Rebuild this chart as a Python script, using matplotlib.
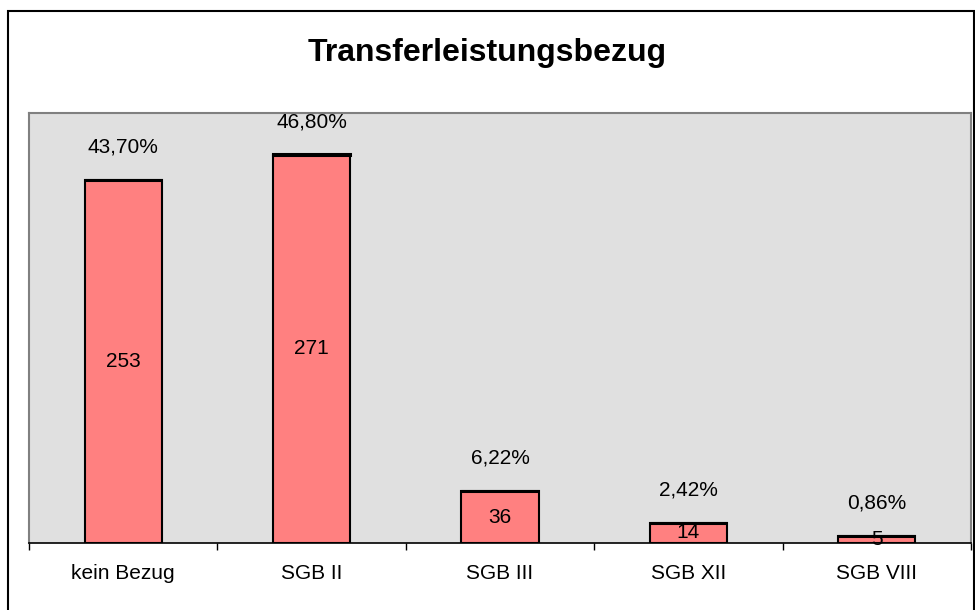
import matplotlib
matplotlib.use("Agg")
import matplotlib.pyplot as plt
from matplotlib.patches import Rectangle
import numpy as np

plt.rcParams['font.family'] = ['Liberation Sans', 'DejaVu Sans']

categories = ['kein Bezug', 'SGB II', 'SGB III', 'SGB XII', 'SGB VIII']
counts = [253, 271, 36, 14, 5]
percent = [43.70, 46.80, 6.22, 2.42, 0.86]
percent_labels = ['43,70%', '46,80%', '6,22%', '2,42%', '0,86%']

fig = plt.figure(figsize=(9.75, 6.1), dpi=100)
ax = fig.add_axes([29 / 975, 67 / 610, 942 / 975, 430 / 610])

# outer chart border
fig.patches.append(Rectangle((8 / 975, -0.05), 966 / 975, 1.05 - 11 / 610,
                             transform=fig.transFigure, fill=False,
                             edgecolor='black', linewidth=1.5))

x = np.arange(len(categories))
ax.set_facecolor('#E0E0E0')
ax.bar(x, counts, width=0.41, color='#FF8080', edgecolor='black', linewidth=1.5)
# the percentage series sits on top as a thin stacked segment
ax.bar(x, [p / 100 for p in percent], bottom=counts, width=0.41,
       color='black', edgecolor='black', linewidth=2.2)

for xi, c, lab in zip(x, counts, percent_labels):
    ax.text(xi, c / 2, str(c), ha='center', va='center', fontsize=15)
    ax.text(xi, c + 23, lab, ha='center', va='center', fontsize=15)

ax.set_xlim(-0.5, len(categories) - 0.5)
ax.set_ylim(0, 300)
ax.set_yticks([])
ax.set_xticks(x)
ax.set_xticklabels(categories, fontsize=15)
ax.set_xticks(np.arange(len(categories) + 1) - 0.5, minor=True)
ax.tick_params(axis='x', which='major', length=0, pad=15)
ax.tick_params(axis='x', which='minor', length=5, width=1, color='black')

for side in ['top', 'right', 'left']:
    ax.spines[side].set_color('#808080')
    ax.spines[side].set_linewidth(1.5)
ax.spines['bottom'].set_color('black')
ax.spines['bottom'].set_linewidth(1.2)

fig.text(0.5, 1 - 53 / 610, 'Transferleistungsbezug', ha='center', va='center',
         fontsize=23, fontweight='bold')

fig.savefig('out.png', dpi=100)
